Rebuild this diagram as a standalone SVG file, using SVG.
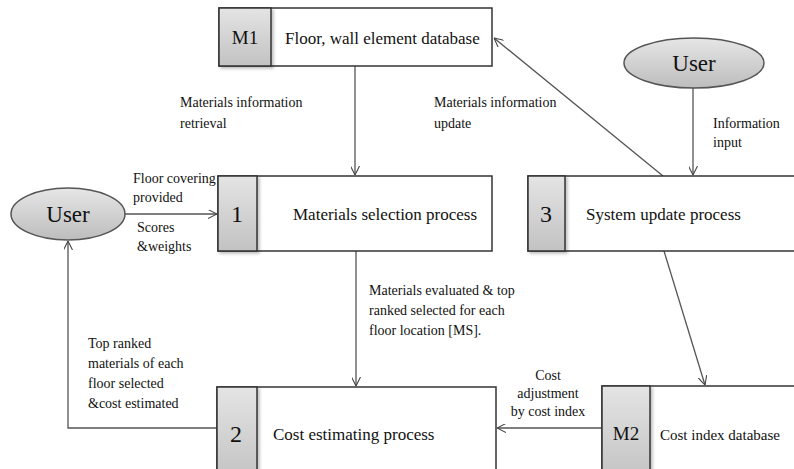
<svg xmlns="http://www.w3.org/2000/svg" width="794" height="469" viewBox="0 0 794 469" font-family="'Liberation Serif','Times New Roman','DejaVu Serif',serif">
<style>
text{font-family:'Liberation Serif','Times New Roman','DejaVu Serif',serif;fill:#111}
.box{fill:#fff;stroke:#333;stroke-width:1.5}
.cell{fill:url(#cellg);stroke:#333;stroke-width:1.5}
.ell{fill:url(#ellg);stroke:#555;stroke-width:1.5}
.big{font-size:24px}
.usr{font-size:23px}
.mm{font-size:19px}
.mid{font-size:17px}
.sm{font-size:14px}
.con{fill:none;stroke:#555;stroke-width:1.3}
</style>
<defs>
<linearGradient id="cellg" x1="0" y1="0" x2="0" y2="1">
<stop offset="0" stop-color="#e4e4e4"/>
<stop offset="1" stop-color="#c2c2c2"/>
</linearGradient>
<linearGradient id="ellg" x1="0" y1="0" x2="0" y2="1">
<stop offset="0" stop-color="#e6e6e6"/>
<stop offset="1" stop-color="#bdbdbd"/>
</linearGradient>
<marker id="arr" viewBox="0 0 10 10" refX="10" refY="5" markerWidth="9" markerHeight="9" orient="auto" markerUnits="userSpaceOnUse">
<path d="M0,0 L10,5 L0,10" fill="none" stroke="#444" stroke-width="1.2"/>
</marker>
<filter id="sh" x="-20%" y="-20%" width="150%" height="150%">
<feDropShadow dx="2" dy="2" stdDeviation="1.5" flood-color="#000" flood-opacity="0.25"/>
</filter>
</defs>

<g id="connectors">
<line class="con" x1="355" y1="66" x2="355" y2="175" marker-end="url(#arr)"/>
<line class="con" x1="663" y1="176" x2="494" y2="38" marker-end="url(#arr)"/>
<line class="con" x1="693" y1="88" x2="693" y2="175" marker-end="url(#arr)"/>
<line class="con" x1="125" y1="214" x2="217" y2="214" marker-end="url(#arr)"/>
<line class="con" x1="356" y1="251" x2="356" y2="386" marker-end="url(#arr)"/>
<polyline class="con" points="217,428 68,428 68,241" marker-end="url(#arr)"/>
<line class="con" x1="602" y1="428" x2="497" y2="428" marker-end="url(#arr)"/>
<line class="con" x1="664" y1="251" x2="705" y2="385" marker-end="url(#arr)"/>
<text class="sm" x="180" y="107">Materials  information</text>
<text class="sm" x="180" y="128">retrieval</text>
<text class="sm" x="434" y="107">Materials information</text>
<text class="sm" x="434" y="128">update</text>
<text class="sm" x="713" y="128">Information</text>
<text class="sm" x="713" y="147">input</text>
<text class="sm" x="133" y="183">Floor covering</text>
<text class="sm" x="133" y="202">provided</text>
<text class="sm" x="137" y="232">Scores</text>
<text class="sm" x="137" y="251">&amp;weights</text>
<text class="sm" x="369" y="295">Materials evaluated &amp; top</text>
<text class="sm" x="369" y="315">ranked selected for each</text>
<text class="sm" x="369" y="335">floor location [MS].</text>
<text class="sm" x="88" y="348">Top ranked</text>
<text class="sm" x="88" y="368">materials  of each</text>
<text class="sm" x="88" y="388">floor  selected</text>
<text class="sm" x="88" y="408">&amp;cost estimated</text>
<text class="sm" x="548" y="380" text-anchor="middle">Cost</text>
<text class="sm" x="548" y="398" text-anchor="middle">adjustment</text>
<text class="sm" x="548" y="416" text-anchor="middle">by cost index</text>
</g>

<g id="M1">
<rect class="box" x="219" y="8" width="273" height="58"/>
<rect class="cell" x="219" y="8" width="52" height="58" filter="url(#sh)"/>
<text class="mm" x="245" y="44" text-anchor="middle">M1</text>
<text class="mid" x="285" y="44">Floor, wall element  database</text>
</g>

<g id="user-top">
<ellipse class="ell" cx="694" cy="63" rx="70" ry="25"/>
<text class="usr" x="694" y="71" text-anchor="middle">User</text>
</g>

<g id="user-left">
<ellipse class="ell" cx="68" cy="214" rx="57" ry="26"/>
<text class="usr" x="68" y="222" text-anchor="middle">User</text>
</g>

<g id="p1">
<rect class="box" x="218" y="176" width="274" height="75"/>
<rect class="cell" x="218" y="176" width="39" height="75" filter="url(#sh)"/>
<text class="big" x="237" y="222" text-anchor="middle">1</text>
<text class="mid" x="293" y="220">Materials  selection process</text>
</g>

<g id="p3">
<rect class="box" x="528" y="176" width="280" height="75"/>
<rect class="cell" x="528" y="176" width="37" height="75" filter="url(#sh)"/>
<text class="big" x="546" y="222" text-anchor="middle">3</text>
<text class="mid" x="586" y="220">System update process</text>
</g>

<g id="p2">
<rect class="box" x="217" y="387" width="279" height="95"/>
<rect class="cell" x="217" y="387" width="40" height="95" filter="url(#sh)"/>
<text class="big" x="236" y="442" text-anchor="middle">2</text>
<text class="mid" x="273" y="440">Cost estimating  process</text>
</g>

<g id="M2">
<rect class="box" x="602" y="386" width="210" height="96"/>
<rect class="cell" x="602" y="386" width="48" height="96" filter="url(#sh)"/>
<text class="mm" x="626" y="440" text-anchor="middle">M2</text>
<text x="660" y="440" font-size="15" textLength="120" lengthAdjust="spacingAndGlyphs">Cost index database</text>
</g>
</svg>
